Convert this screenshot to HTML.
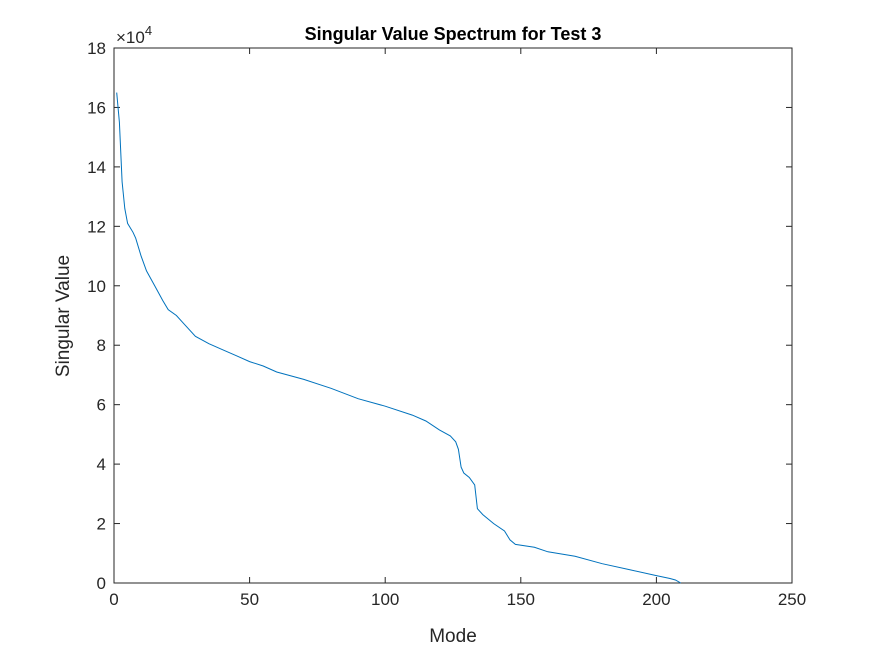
<!DOCTYPE html>
<html><head><meta charset="utf-8"><style>
html,body{margin:0;padding:0;background:#fff;}
svg{display:block;font-family:"Liberation Sans",Arial,sans-serif;}
</style></head><body>
<svg id="chart" width="875" height="656" viewBox="0 0 875 656"></svg>
<script>
const modes=[1,2,3,4,5,7,8,10,12,15,18,20,23,26,30,35,40,45,50,55,60,70,80,90,100,110,115,120,124,126,127,128,129,131,133,134,136,140,144,146,148,155,160,170,180,190,200,205,207,209];
const values=[16.5,15.5,13.5,12.6,12.1,11.8,11.6,11.0,10.5,10.0,9.5,9.2,9.0,8.7,8.3,8.05,7.85,7.65,7.45,7.3,7.1,6.85,6.55,6.2,5.95,5.65,5.45,5.15,4.95,4.75,4.5,3.9,3.7,3.55,3.3,2.5,2.3,2.0,1.75,1.45,1.3,1.2,1.05,0.9,0.65,0.45,0.25,0.15,0.1,0.0];
const xTicks=[0,50,100,150,200,250];
const yTicks=[0,2,4,6,8,10,12,14,16,18];
const L=114,R=792,T=48,B=583;
const xs=v=>L+(v-0)/(250-0)*(R-L);
const ys=v=>B-(v-0)/(18-0)*(B-T);
const svg=document.getElementById('chart');
const NS='http://www.w3.org/2000/svg';
function mk(tag,attrs,txt){const e=document.createElementNS(NS,tag);for(const k in attrs)e.setAttribute(k,attrs[k]);if(txt!=null)e.textContent=txt;svg.appendChild(e);return e;}
let e=mk('rect',{x:L,y:T,width:R-L,height:B-T,fill:'#fff',stroke:'#262626','stroke-width':1});


xTicks.forEach(t=>{const x=xs(t);
 let a=mk('line',{x1:x,y1:B,x2:x,y2:B-6,stroke:'#262626'});
 
 
 a=mk('line',{x1:x,y1:T,x2:x,y2:T+6,stroke:'#262626'});
 
 
 a=mk('text',{x:x,y:B+22,'text-anchor':'middle','font-size':17,fill:'#262626'},t);
 
 
});
yTicks.forEach(t=>{const y=ys(t);
 let a=mk('line',{x1:L,y1:y,x2:L+6,y2:y,stroke:'#262626'});
 
 
 a=mk('line',{x1:R,y1:y,x2:R-6,y2:y,stroke:'#262626'});
 
 
 a=mk('text',{x:L-8,y:y+6,'text-anchor':'end','font-size':17,fill:'#262626'},t);
 
 
});
const d=modes.map((m,i)=>(i?'L':'M')+xs(m).toFixed(1)+','+ys(values[i]).toFixed(1)).join('');
e=mk('path',{d:d,fill:'none',stroke:'#0072BD','stroke-width':1});


e=mk('text',{x:116,y:43,'font-size':17,fill:'#262626'});
e.innerHTML='×10<tspan dy="-8" font-size="13">4</tspan>';


e=mk('text',{x:453,y:40,'text-anchor':'middle','font-size':18,'font-weight':'bold',fill:'#000'},'Singular Value Spectrum for Test 3');


e=mk('text',{x:453,y:642,'text-anchor':'middle','font-size':19,fill:'#262626'},'Mode');


e=mk('text',{x:0,y:0,'text-anchor':'middle','font-size':19,fill:'#262626',transform:'translate(69,316) rotate(-90)'},'Singular Value');


</script>
</body></html>
